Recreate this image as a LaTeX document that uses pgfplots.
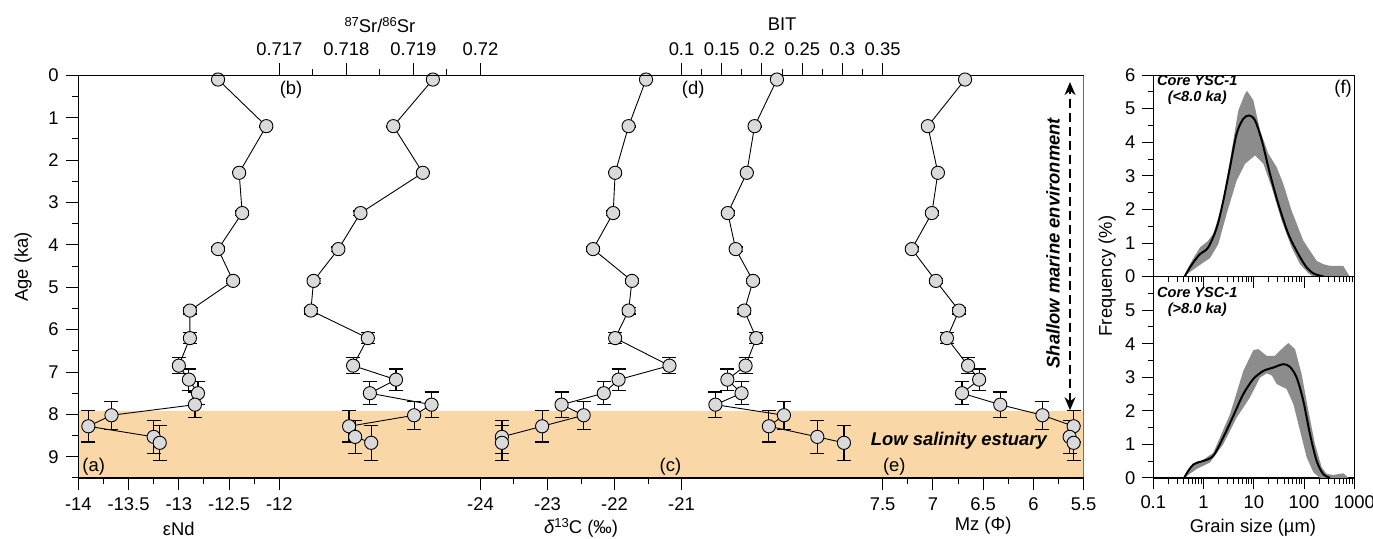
\documentclass[border=0pt]{standalone}
\usepackage{pgfplots}
\pgfplotsset{compat=1.18}
\usepackage{pgfplotstable}
\usepackage{fontspec}
\setmainfont{Liberation Sans}
\usetikzlibrary{arrows.meta}

\definecolor{bandorange}{RGB}{250,215,166}
\definecolor{ptfill}{RGB}{218,218,218}
\definecolor{gsgray}{RGB}{140,140,140}
\definecolor{frame}{RGB}{110,110,110}
\newcommand{\tfont}{\fontsize{9.2}{11}\selectfont}
\newcommand{\bifont}{\fontsize{9.2}{11}\selectfont\bfseries\itshape}

\pgfplotstableread{
age  err  end    sr      dc     bit    mz
0.10 0.00 -12.61 0.71929 -21.53 0.2186 6.68
1.20 0.02 -12.13 0.71870 -21.79 0.1908 7.05
2.30 0.02 -12.40 0.71914 -21.99 0.1811 6.95
3.25 0.05 -12.37 0.71821 -22.02 0.1575 7.01
4.10 0.05 -12.61 0.71788 -22.32 0.1673 7.21
4.85 0.06 -12.46 0.71751 -21.74 0.1889 6.97
5.55 0.08 -12.89 0.71747 -21.79 0.1781 6.74
6.20 0.13 -12.89 0.71832 -21.99 0.1929 6.86
6.85 0.19 -13.00 0.71810 -21.18 0.1796 6.65
7.18 0.25 -12.90 0.71874 -21.94 0.1570 6.54
7.50 0.27 -12.81 0.71835 -22.16 0.1746 6.71
7.77 0.30 -12.84 0.71927 -22.79 0.1421 6.33
8.02 0.33 -13.67 0.71901 -22.46 0.2273 5.91
8.28 0.37 -13.90 0.71804 -23.08 0.2086 5.60
8.53 0.39 -13.25 0.71813 -23.68 0.2688 5.64
8.67 0.41 -13.19 0.71837 -23.68 0.3019 5.60
}\proxy

\pgfplotstableread{
d f
0.42 0.0
0.55 0.30
0.70 0.52
0.85 0.67
1.24 0.87
1.83 1.46
2.47 2.26
3.36 3.26
4.56 4.26
6.18 4.70
8.15 4.80
10.6 4.65
14.4 4.06
21 3.06
30.8 2.16
48.6 1.27
76.9 0.67
113 0.27
160 0.08
240 0.01
}\topmean

\pgfplotstableread{
d f
0.40 0
0.60 0.50
0.85 0.87
1.2 1.05
1.56 1.27
2.3 2.06
3.36 3.46
4.92 4.95
6.68 5.45
7.4 5.53
9.8 5.25
13.3 4.36
19.5 3.66
28.5 3.26
38.7 2.76
56.7 1.96
96.6 1.07
178 0.47
240 0.37
330 0.32
600 0.32
760 0.07
800 0
150 0
122 0.10
83 0.37
56.7 0.87
35.9 1.66
22.7 2.66
15.5 3.36
10.6 3.61
6.68 3.36
4.56 2.86
2.88 1.87
1.97 0.97
1.34 0.55
0.85 0.35
0.40 0
}\topband

\pgfplotstableread{
d f
0.41 0
0.50 0.22
0.625 0.40
0.8 0.47
1.0 0.51
1.56 0.66
2.47 1.21
3.91 1.85
6.18 2.50
9.8 2.95
15.5 3.19
24.4 3.29
38.7 3.39
52.5 3.31
71.3 2.99
96.6 2.30
131 1.31
178 0.51
240 0.12
330 0.0
}\botmean

\pgfplotstableread{
d f
0.41 0
0.55 0.33
0.73 0.46
1.0 0.55
1.56 0.75
3.36 1.90
6.18 3.19
9.8 3.81
12.3 3.84
18 3.64
26.3 3.64
38.7 3.89
48.6 4.02
66.1 3.84
89.6 3.09
122 2.0
165 1.01
224 0.32
283 0.12
385 0.09
500 0.12
607 0.14
700 0.06
760 0
208 0
153 0.17
113 0.61
83 1.41
61.3 2.20
45 2.65
28.5 2.80
23 3.05
18 3.12
13.3 2.99
8.4 2.40
4.56 1.80
2.47 1.01
1.34 0.46
0.73 0.27
0.41 0
}\botband

\pgfplotsset{
  mainax/.style={
    at={(0pt,0pt)}, anchor=south west, scale only axis,
    width=502.7pt, height=201.35pt,
    ymin=0, ymax=9.5, y dir=reverse, clip=false,
    tick align=outside, major tick length=6.25pt, minor tick length=3.25pt,
    every tick/.style={black, line width=0.5pt},
    axis line style={black, line width=0.55pt, -},
    tick label style={font=\tfont},
  },
  series/.style={black, line width=0.45pt, mark=*, mark size=3.3pt,
    mark options={fill=ptfill, draw=black, line width=0.45pt, solid}},
  errs/.style={draw=none, mark=none, forget plot,
    error bars/.cd, y dir=both, y explicit,
    error bar style={draw=black, line width=0.6pt},
    error mark options={draw=black, line width=0.6pt, mark size=3.5pt, rotate=90}},
  gsax/.style={
    anchor=south west, scale only axis, width=100.5pt, height=100.7pt,
    xmin=0.1, xmax=1000, ymin=0, ymax=6,
    xtick={0.1,1,10,100,1000},
    minor xtick={0.2,0.3,0.4,0.5,0.6,0.7,0.8,0.9,2,3,4,5,6,7,8,9,20,30,40,50,60,70,80,90,200,300,400,500,600,700,800,900},
    minor ytick={0.5,1.5,...,5.5},
    xtick pos=left, ytick pos=left, tick align=outside,
    major tick length=5.5pt, minor tick length=2.8pt,
    every tick/.style={black, line width=0.5pt},
    axis line style={black, line width=0.55pt},
    tick label style={font=\tfont},
  },
}

\begin{document}
\begin{tikzpicture}
% ---------- eNd (base) ----------
\begin{axis}[mainax, axis on top,
  axis x line*=bottom, axis y line*=left,
  xmin=-14, xmax=-4,
  xtick={-14,-13.5,-13,-12.5,-12},
  xticklabels={-14,-13.5,-13,-12.5,-12},
  minor xtick={-13.75,-13.25,-12.75,-12.25},
  ytick={0,1,2,3,4,5,6,7,8,9}, yticklabels={0,1,2,3,4,5,6,7,8,9},
  minor ytick={0.5,1.5,...,9.5},
]
\addplot[fill=bandorange, draw=none, forget plot] coordinates {(-14,7.92) (-4,7.92) (-4,9.5) (-14,9.5)} -- cycle;
\draw[frame, line width=0.6pt] (rel axis cs:1,0) -- (rel axis cs:1,1);
\addplot[series] table[x=end, y=age] {\proxy};
\addplot[errs] table[x=end, y=age, y error=err] {\proxy};
\node[font=\tfont, anchor=west, inner sep=0pt] at (axis cs:-13.963,9.24) {(a)};
\node[font=\tfont] at (axis cs:-13,10.70) {εNd};
\end{axis}
% ---------- Sr ----------
\begin{axis}[mainax,
  axis x line*=top, axis y line=none,
  xmin=0.714, xmax=0.729,
  xtick={0.717,0.718,0.719,0.72}, xticklabels={0.717,0.718,0.719,0.72},
  minor xtick={0.7175,0.7185,0.7195}, ytick=\empty,
]
\addplot[series] table[x=sr, y=age] {\proxy};
\addplot[errs] table[x=sr, y=age, y error=err] {\proxy};
\node[font=\tfont, anchor=west, inner sep=0pt] at (axis cs:0.717,0.35) {(b)};
\node[font=\tfont] at (axis cs:0.7185,-1.19) {{\fontsize{6.5}{8}\selectfont\raisebox{3pt}{87}}Sr/{\fontsize{6.5}{8}\selectfont\raisebox{3pt}{86}}Sr};
\end{axis}
% ---------- d13C ----------
\begin{axis}[mainax,
  axis x line*=bottom, axis y line=none,
  xmin=-30, xmax=-15,
  xtick={-24,-23,-22,-21}, xticklabels={-24,-23,-22,-21},
  minor xtick={-23.5,-22.5,-21.5}, ytick=\empty,
]
\addplot[series] table[x=dc, y=age] {\proxy};
\addplot[errs] table[x=dc, y=age, y error=err] {\proxy};
\node[font=\tfont, anchor=east, inner sep=0pt] at (axis cs:-21.0,9.24) {(c)};
\node[font=\tfont] at (axis cs:-22.5,10.68) {\textit{δ}{\fontsize{6.5}{8}\selectfont\raisebox{3pt}{13}}C (‰)};
\end{axis}
% ---------- BIT ----------
\begin{axis}[mainax,
  axis x line*=top, axis y line=none,
  xmin=-0.65, xmax=0.6,
  xtick={0.1,0.15,0.2,0.25,0.3,0.35}, xticklabels={0.1,0.15,0.2,0.25,0.3,0.35},
  minor xtick={0.125,0.175,0.225,0.275,0.325}, ytick=\empty,
]
\addplot[series] table[x=bit, y=age] {\proxy};
\addplot[errs] table[x=bit, y=age, y error=err] {\proxy};
\node[font=\tfont, anchor=west, inner sep=0pt] at (axis cs:0.1,0.35) {(d)};
\node[font=\tfont] at (axis cs:0.225,-1.21) {BIT};
\end{axis}
% ---------- Mz ----------
\begin{axis}[mainax,
  axis x line*=bottom, axis y line=none,
  x dir=reverse, xmin=5.5, xmax=15.5,
  xtick={5.5,6,6.5,7,7.5}, xticklabels={5.5,6,6.5,7,7.5},
  minor xtick={5.75,6.25,6.75,7.25}, ytick=\empty,
]
\addplot[series] table[x=mz, y=age] {\proxy};
\addplot[errs] table[x=mz, y=age, y error=err] {\proxy};
\node[font=\tfont, anchor=west, inner sep=0pt] at (axis cs:7.5,9.24) {(e)};
\node[font=\tfont] at (axis cs:6.5,10.63) {Mz (Φ)};
\node[font=\bifont] at (axis cs:6.741,8.625) {Low salinity estuary};
\node[font=\bifont, rotate=90] at (axis cs:5.805,3.96) {Shallow marine environment};
\draw[black, line width=0.65pt, dash pattern=on 4.5pt off 2.5pt,
  {Stealth[length=6.5pt,width=5.5pt]}-{Stealth[length=6.5pt,width=5.5pt]}]
  (axis cs:5.636,7.90) -- (axis cs:5.636,0.16);
\end{axis}
% ---------- labels ----------
\node[font=\tfont, rotate=90] at (-27.65pt,105.5pt) {Age (ka)};
% ---------- grain size top ----------
\begin{axis}[gsax, xmode=log, at={(537.5pt,100.7pt)},
  xticklabels={}, ytick={0,1,2,3,4,5,6}, yticklabels={0,1,2,3,4,5,6}]
\addplot[fill=gsgray, draw=none] table[x=d, y=f] {\topband};
\addplot[black, line width=1pt, smooth] table[x=d, y=f] {\topmean};
\node[font=\fontsize{7.3}{9}\selectfont\bfseries\itshape, align=center, inner sep=0pt] at (axis cs:0.75,5.55) {Core YSC-1\\[-1pt](<8.0 ka)};
\node[font=\tfont] at (axis cs:600,5.6) {(f)};
\end{axis}
% ---------- grain size bottom ----------
\begin{axis}[gsax, xmode=log, at={(537.5pt,0pt)},
  xticklabels={0.1,1,10,100,1000}, ytick={0,1,2,3,4,5}, yticklabels={0,1,2,3,4,5}]
\addplot[fill=gsgray, draw=none] table[x=d, y=f] {\botband};
\addplot[black, line width=1pt, smooth] table[x=d, y=f] {\botmean};
\node[font=\fontsize{7.3}{9}\selectfont\bfseries\itshape, align=center, inner sep=0pt] at (axis cs:0.75,5.25) {Core YSC-1\\[-1pt](>8.0 ka)};
\end{axis}
\node[font=\tfont, rotate=90] at (514.35pt,101pt) {Frequency (\%)};
\node[font=\tfont] at (587.35pt,-25pt) {Grain size (µm)};
\pgfresetboundingbox
\path[use as bounding box] (-39.15pt,-30.5pt) rectangle (647.35pt,239pt);
\end{tikzpicture}
\end{document}
